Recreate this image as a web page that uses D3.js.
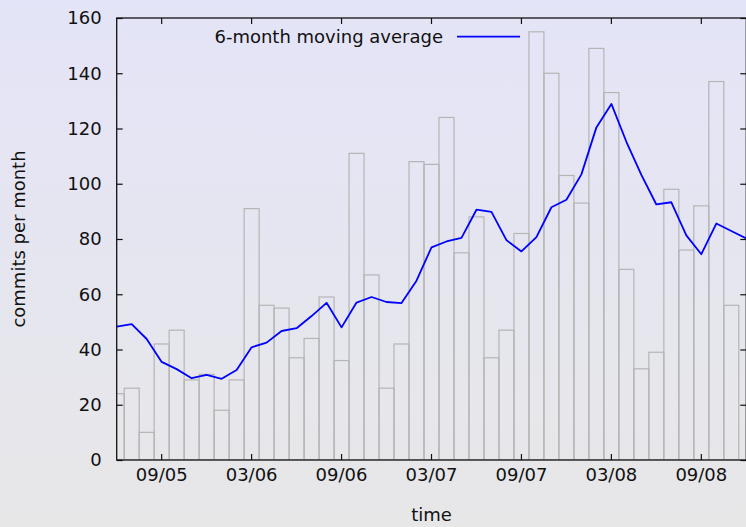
<!DOCTYPE html>
<html>
<head>
<meta charset="utf-8">
<script src="https://cdn.jsdelivr.net/npm/d3@7"></script>
<style>
  body { margin: 0; }
  svg { display: block; font-family: "DejaVu Sans", sans-serif; }
</style>
</head>
<body>
<div id="chart"></div>
<script>
const months = [
  "2005-06", "2005-07", "2005-08", "2005-09", "2005-10", "2005-11", "2005-12",
  "2006-01", "2006-02", "2006-03", "2006-04", "2006-05", "2006-06", "2006-07", "2006-08", "2006-09", "2006-10", "2006-11", "2006-12",
  "2007-01", "2007-02", "2007-03", "2007-04", "2007-05", "2007-06", "2007-07", "2007-08", "2007-09", "2007-10", "2007-11", "2007-12",
  "2008-01", "2008-02", "2008-03", "2008-04", "2008-05", "2008-06", "2008-07", "2008-08", "2008-09", "2008-10", "2008-11", "2008-12"
];
// commits per month, Jun 2005 .. Nov 2008
const commits = [
  24, 26, 10, 42, 47, 29, 31,
  18, 29, 91, 56, 55, 37, 44, 59, 36, 111, 67, 26,
  42, 108, 107, 124, 75, 88, 37, 47, 82, 155, 140, 103,
  93, 149, 133, 69, 33, 39, 98, 76, 92, 137, 56
];
// 6-month moving average, Jun 2005 .. Dec 2008
const movingAvg = [
  48.3, 49.2, 43.8, 35.5, 32.9, 29.6, 30.8,
  29.4, 32.6, 40.8, 42.5, 46.7, 47.7, 52.1, 56.9, 48.0, 57.0, 59.0, 57.2,
  56.8, 64.9, 77.0, 79.1, 80.4, 90.6, 89.8, 79.6, 75.5, 80.7, 91.5, 94.2,
  103.4, 120.4, 128.9, 115.2, 103.2, 92.5, 93.3, 81.3, 74.5, 85.6, 82.9, 80.2
];
const xTickMonths = ["2005-09", "2006-03", "2006-09", "2007-03", "2007-09", "2008-03", "2008-09"];
const xTickLabels = ["09/05", "03/06", "09/06", "03/07", "09/07", "03/08", "09/08"];
const yTicks = [0, 20, 40, 60, 80, 100, 120, 140, 160];

const width = 746;
const height = 527;
const plot = { left: 116.7, right: 746.3, top: 18, bottom: 460 };

const svg = d3.select("#chart")
              .append("svg")
              .attr("width", width)
              .attr("height", height);

const defs = svg.append("defs");
const grad = defs.append("linearGradient")
                 .attr("id", "bg")
                 .attr("x1", 0).attr("y1", 0)
                 .attr("x2", 0).attr("y2", 1);
grad.append("stop").attr("offset", "0%").attr("stop-color", "#e4e4f8");
grad.append("stop").attr("offset", "100%").attr("stop-color", "#e7e7e8");
defs.append("clipPath")
    .attr("id", "plotclip")
    .append("rect")
    .attr("x", plot.left)
    .attr("y", plot.top)
    .attr("width", plot.right - plot.left)
    .attr("height", plot.bottom - plot.top);

svg.append("rect")
   .attr("width", width)
   .attr("height", height)
   .attr("fill", "url(#bg)");

const step = (plot.right - plot.left) / (months.length - 1);
const x = d3.scaleBand()
            .domain(months)
            .range([plot.left - step / 2, plot.right + step / 2])
            .padding(0);
const y = d3.scaleLinear()
            .domain([0, 160])
            .range([plot.bottom, plot.top]);

const marks = svg.append("g").attr("clip-path", "url(#plotclip)");

marks.append("g")
     .selectAll("rect")
     .data(commits)
     .enter()
     .append("rect")
     .attr("x", (d, i) => x(months[i]))
     .attr("width", x.bandwidth())
     .attr("y", (d) => y(d))
     .attr("height", (d) => y(0) - y(d))
     .attr("fill", "none")
     .attr("stroke", "#b5b5b5")
     .attr("stroke-width", 1.2);

const line = d3.line()
               .x((d, i) => x(months[i]) + x.bandwidth() / 2)
               .y((d) => y(d));
marks.append("path")
     .datum(movingAvg)
     .attr("d", line)
     .attr("fill", "none")
     .attr("stroke", "#0000ff")
     .attr("stroke-width", 1.8)
     .attr("stroke-linejoin", "round");

// axes, ticks pointing inward on all four sides
const styleAxis = (g) => {
  g.select(".domain").remove();
  g.attr("font-size", 18).attr("font-family", "DejaVu Sans, sans-serif");
  g.selectAll(".tick line").attr("stroke", "#111").attr("stroke-width", 1.2);
  g.selectAll(".tick text").attr("fill", "#111");
};

svg.append("g")
   .attr("transform", "translate(0," + plot.bottom + ")")
   .call(d3.axisBottom(x).tickValues(xTickMonths).tickFormat((d, i) => xTickLabels[i]).tickSize(-6).tickPadding(8))
   .call(styleAxis);
svg.append("g")
   .attr("transform", "translate(0," + plot.top + ")")
   .call(d3.axisTop(x).tickValues(xTickMonths).tickFormat("").tickSize(-6))
   .call(styleAxis);
svg.append("g")
   .attr("transform", "translate(" + plot.left + ",0)")
   .call(d3.axisLeft(y).tickValues(yTicks).tickSize(-6).tickPadding(15))
   .call(styleAxis);
svg.append("g")
   .attr("transform", "translate(" + plot.right + ",0)")
   .call(d3.axisRight(y).tickValues(yTicks).tickFormat("").tickSize(-6))
   .call(styleAxis);

svg.append("rect")
   .attr("x", plot.left)
   .attr("y", plot.top)
   .attr("width", plot.right - plot.left)
   .attr("height", plot.bottom - plot.top)
   .attr("fill", "none")
   .attr("stroke", "#111")
   .attr("stroke-width", 1.3);

// axis titles
svg.append("text")
   .text("time")
   .attr("x", (plot.left + plot.right) / 2)
   .attr("y", 521)
   .attr("text-anchor", "middle")
   .attr("font-size", 18)
   .attr("fill", "#111");
svg.append("text")
   .text("commits per month")
   .attr("transform", "translate(25," + (plot.top + plot.bottom) / 2 + ")rotate(-90)")
   .attr("text-anchor", "middle")
   .attr("font-size", 18)
   .attr("fill", "#111");

// legend
svg.append("text")
   .text("6-month moving average")
   .attr("x", 443)
   .attr("y", 43)
   .attr("text-anchor", "end")
   .attr("font-size", 18)
   .attr("fill", "#111");
svg.append("line")
   .attr("x1", 457)
   .attr("x2", 520)
   .attr("y1", 36.7)
   .attr("y2", 36.7)
   .attr("stroke", "#0000ff")
   .attr("stroke-width", 1.8);
</script>
</body>
</html>
